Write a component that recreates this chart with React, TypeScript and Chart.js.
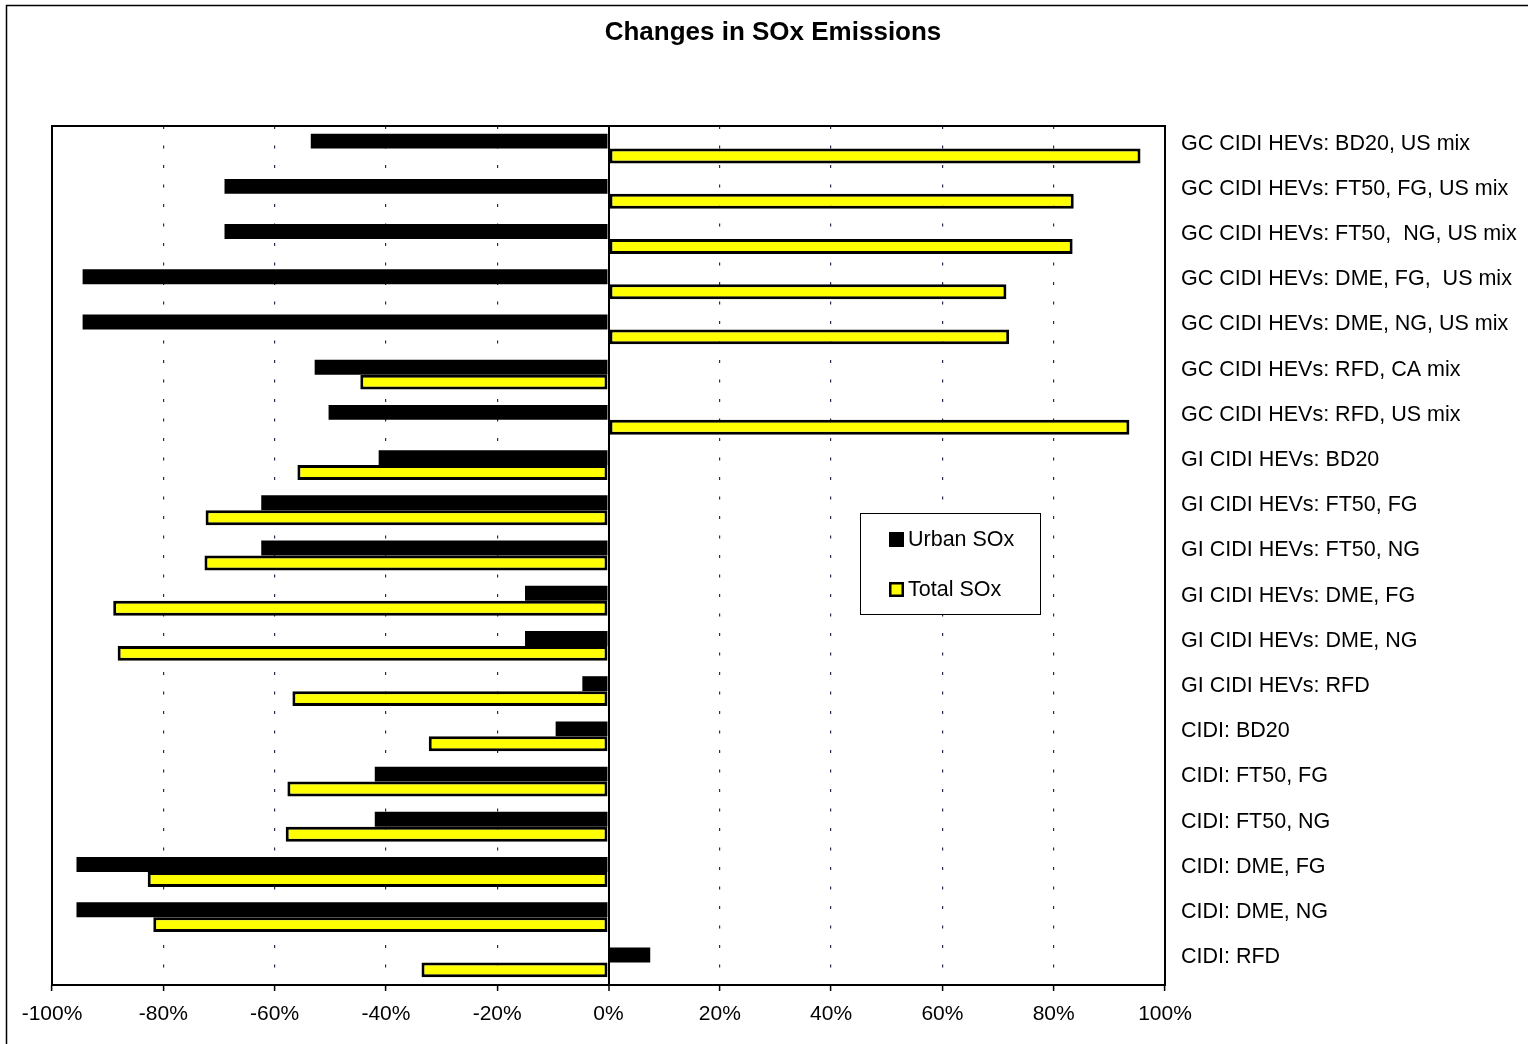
import React, { useEffect, useRef } from "react";
import { Chart, registerables } from "chart.js";

Chart.register(...registerables);

const categories: string[] = [
  "GC CIDI HEVs: BD20, US mix",
  "GC CIDI HEVs: FT50, FG, US mix",
  "GC CIDI HEVs: FT50,  NG, US mix",
  "GC CIDI HEVs: DME, FG,  US mix",
  "GC CIDI HEVs: DME, NG, US mix",
  "GC CIDI HEVs: RFD, CA mix",
  "GC CIDI HEVs: RFD, US mix",
  "GI CIDI HEVs: BD20",
  "GI CIDI HEVs: FT50, FG",
  "GI CIDI HEVs: FT50, NG",
  "GI CIDI HEVs: DME, FG",
  "GI CIDI HEVs: DME, NG",
  "GI CIDI HEVs: RFD",
  "CIDI: BD20",
  "CIDI: FT50, FG",
  "CIDI: FT50, NG",
  "CIDI: DME, FG",
  "CIDI: DME, NG",
  "CIDI: RFD",
];

const urbanSOx: number[] = [
  -53.5, -69, -69, -94.5, -94.5, -52.8, -50.3, -41.3, -62.4, -62.4, -15, -15, -4.7,
  -9.5, -42, -42, -95.6, -95.6, 7.5,
];

const totalSOx: number[] = [
  95.6, 83.6, 83.4, 71.5, 72, -44.6, 93.6, -55.9, -72.4, -72.6, -89, -88.2, -56.8,
  -32.3, -57.7, -58, -82.8, -81.8, -33.6,
];

const seriesNames: string[] = ["Urban SOx", "Total SOx"];
const titleText = "Changes in SOx Emissions";

const FONT = "'Liberation Sans', Arial, Helvetica, sans-serif";

const framePlugin = {
  id: "framePlugin",
  beforeDraw(chart: any) {
    const ctx = chart.ctx;
    ctx.save();
    ctx.fillStyle = "#ffffff";
    ctx.fillRect(0, 0, chart.width, chart.height);
    ctx.strokeStyle = "#000";
    ctx.lineWidth = 1.5;
    ctx.beginPath();
    ctx.moveTo(6.5, chart.height);
    ctx.lineTo(6.5, 5.5);
    ctx.lineTo(chart.width, 5.5);
    ctx.stroke();
    ctx.restore();
  },
  afterDraw(chart: any) {
    const ctx = chart.ctx;
    const a = chart.chartArea;
    ctx.save();
    // plot area frame
    ctx.strokeStyle = "#000";
    ctx.lineWidth = 2;
    ctx.strokeRect(a.left, a.top, a.right - a.left, a.bottom - a.top);
    // title
    ctx.fillStyle = "#000";
    ctx.font = `bold 26px ${FONT}`;
    ctx.textAlign = "center";
    ctx.textBaseline = "middle";
    ctx.fillText(titleText, 773, 33);
    // legend
    const lx = 860, ly = 513, lw = 180, lh = 101;
    ctx.fillStyle = "#fff";
    ctx.fillRect(lx, ly, lw, lh);
    ctx.strokeStyle = "#000";
    ctx.lineWidth = 1;
    ctx.strokeRect(lx + 0.5, ly + 0.5, lw, lh);
    const ds = chart.data.datasets;
    const rows = [539, 589];
    ds.forEach((d: any, i: number) => {
      const cy = rows[i];
      ctx.fillStyle = d.backgroundColor;
      ctx.fillRect(889, cy - 7, 15, 15);
      ctx.strokeStyle = "#000";
      ctx.lineWidth = 2.5;
      ctx.strokeRect(890.25, cy - 5.75, 12.5, 12.5);
      ctx.fillStyle = "#000";
      ctx.font = `21.5px ${FONT}`;
      ctx.textAlign = "left";
      ctx.textBaseline = "middle";
      ctx.fillText(d.label, 908, cy + 1);
    });
    ctx.restore();
  },
};

export default function App() {
  const ref = useRef<HTMLCanvasElement | null>(null);

  useEffect(() => {
    document.body.style.margin = "0";
    const canvas = ref.current;
    if (!canvas) return;
    const chart = new Chart(canvas, {
      type: "bar",
      data: {
        labels: categories,
        datasets: [
          {
            label: seriesNames[0],
            data: urbanSOx,
            backgroundColor: "#000000",
            borderColor: "#000000",
            borderWidth: 0,
            borderSkipped: false,
            barPercentage: 1,
            categoryPercentage: 0.66,
          },
          {
            label: seriesNames[1],
            data: totalSOx,
            backgroundColor: "#ffff00",
            borderColor: "#000000",
            borderWidth: 3,
            borderSkipped: false,
            barPercentage: 1,
            categoryPercentage: 0.66,
          },
        ],
      },
      options: {
        indexAxis: "y",
        responsive: false,
        animation: false,
        devicePixelRatio: 1,
        layout: { padding: { left: 52, top: 126, right: 0, bottom: 0 } },
        plugins: {
          legend: { display: false },
          title: { display: false },
          tooltip: { enabled: false },
        },
        scales: {
          x: {
            type: "linear",
            min: -100,
            max: 100,
            afterFit: (s: any) => {
              s.height = 59;
            },
            ticks: {
              stepSize: 20,
              padding: 11,
              color: "#000",
              font: { family: FONT, size: 21 },
              callback: (v: any) => `${v}%`,
            },
            grid: {
              drawTicks: true,
              tickLength: 6,
              tickColor: "#000",
              tickWidth: 1.5,
              color: (c: any) => {
                const v = c.tick ? c.tick.value : null;
                if (v === 0) return "#000";
                if (v === -100 || v === 100) return "rgba(0,0,0,0)";
                return "#2a2a55";
              },
              lineWidth: (c: any) => (c.tick && c.tick.value === 0 ? 2 : 1.2),
            },
            border: {
              display: false,
              dash: (c: any) => (c.tick && c.tick.value === 0 ? [] : [3, 16.5]),
            },
          },
          y: {
            type: "category",
            position: "right",
            afterFit: (s: any) => {
              s.width = 363;
            },
            ticks: {
              padding: 16,
              labelOffset: -5,
              color: "#000",
              font: { family: FONT, size: 21.5 },
              autoSkip: false,
            },
            grid: { display: false, drawTicks: false },
            border: { display: false },
          },
        },
      },
      plugins: [framePlugin],
    } as any);
    return () => chart.destroy();
  }, []);

  return (
    <div style={{ width: 1528, height: 1044, position: "relative" }}>
      <canvas ref={ref} width={1528} height={1044} style={{ display: "block" }} />
    </div>
  );
}
